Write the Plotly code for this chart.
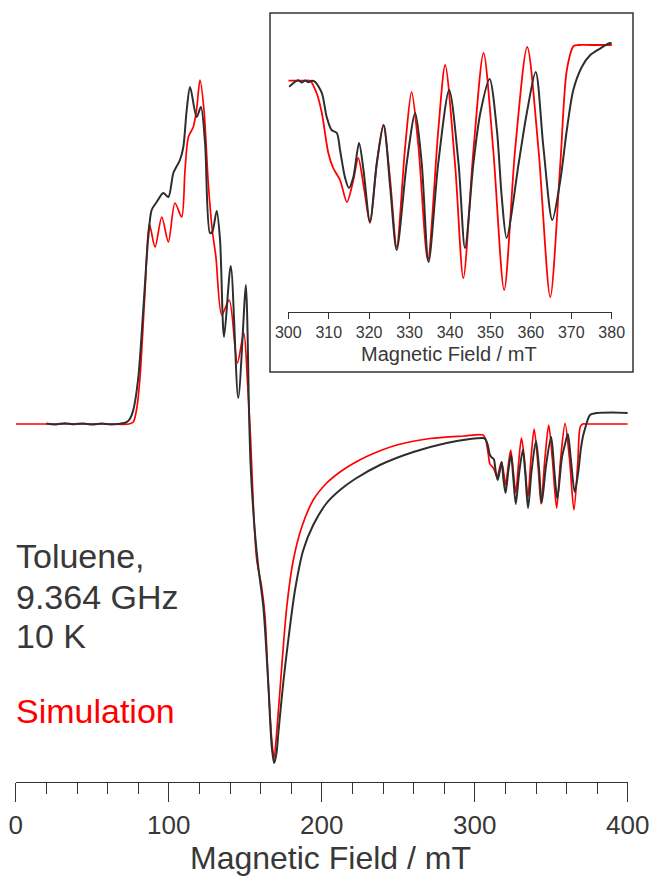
import plotly.graph_objects as go

# ---------------- data ----------------
# Main spectrum: magnetic field (mT) and intensity (arbitrary units)
main_exp_field = [20, 26, 32, 38, 44, 50, 56, 62, 68, 72, 74.5, 76.8, 80.1, 83.3, 86.6, 88.8, 92.1,
                  96.4, 99.7, 103.0, 107.3, 109.5, 111.7, 113.9, 118.2, 121.0, 123.7, 126.9, 128.4,
                  131.3, 133.5, 136.1, 140.5, 145.4, 150.4, 151.5, 152.3, 153.3, 154.3, 156.3, 158.5,
                  161.8, 165.0, 167.3, 168.8, 170.3, 171.6, 174.8, 178.1, 182.5, 187.9, 194.4, 203.2,
                  211.9, 221.7, 238.0, 259.8, 281.6, 296.9, 305.6, 306.8, 308.3, 309.9, 311.1, 312.4,
                  313.6, 314.9, 316.1, 317.6, 318.7, 320.1, 321.9, 323.7, 325.2, 326.8, 328.9, 331.4,
                  333.0, 334.8, 337.1, 340.0, 342.1, 343.7, 346.6, 349.9, 352.0, 353.9, 356.9, 359.0,
                  360.8, 362.7, 365.3, 367.7, 369.3, 370.9, 372.0, 373.1, 375.3, 380, 390, 400]
main_exp_int = [0.5, -0.5, 0.8, -0.3, 0.6, -0.6, 0.4, -0.5, 0.3, 1.5, 5, 14, 47, 114, 187, 214, 222,
                231, 227, 251, 264, 277, 314, 337, 307, 317, 281, 191, 192,
                213, 184, 87, 158, 26, 139, 90, 20, -35, -65, -109, -143,
                -183, -259, -323, -339, -330, -309, -259, -216, -166, -126, -101, -79,
                -66, -55, -41, -28, -19, -15, -14, -15, -20, -31, -33.5, -35,
                -47, -56, -49, -38, -55, -69, -47, -31, -55, -80, -50, -26,
                -50, -84, -47, -17, -47, -79, -41, -13, -47, -75, -34, -20,
                -10, -34, -68, -47, -25, -11, -5, 1, 9, 11, 11.5, 11]

main_sim_field = [0, 20, 40, 60, 74, 76.8, 79, 81.2, 84.4, 87.3, 91.0, 95.4, 99.7, 104.0, 108.4,
                  110.6, 112.8, 116.0, 118.2, 120.4, 123.0, 125.8, 128.4, 130.8, 134.6, 139.5, 144.8,
                  149.0, 151.5, 153.5, 155.5, 157.5, 160.7, 162.9, 165.0, 167.3, 168.8, 170.5, 173.8,
                  177.1, 181.4, 186.9, 194.4, 203.2, 211.9, 220.0, 230.0, 249.0, 270.7, 292.5, 305.4,
                  307.0, 308.7, 309.9, 311.6, 312.8, 314.6, 316.1, 317.4, 319.0, 320.2, 321.9, 323.5,
                  325.2, 326.8, 328.5, 330.5, 332.6, 334.7, 336.7, 338.8, 341.3, 343.3, 345.8, 348.3,
                  350.7, 353.5, 356.1, 359.0, 361.9, 364.8, 367.3, 368.9, 370.6, 372, 380, 390, 400]
main_sim_int = [0, 0, 0, 0, 0, 2, 15, 47, 131, 200, 177, 207, 182, 221, 207,
                254, 287, 297, 315, 344, 314, 241, 194, 167, 109, 124, 61,
                91, 40, -16, -90, -136, -163, -193, -259, -316, -334, -309, -243,
                -183, -136, -103, -76, -59, -48, -40, -32, -21, -14.5, -12, -11,
                -15, -29, -40, -43, -46, -53, -45, -38, -50, -61, -41, -26,
                -48, -69, -41, -14, -38, -73, -35, -5, -41, -80, -35, -1,
                -35, -84, -35, 0.6, -35, -86, -39, -3, 0, 0, 0, 0, 0]

# Inset spectrum (300-380 mT)
inset_exp_field = [300.2, 301.0, 301.7, 302.5, 303.3, 304.2, 305.0, 305.8, 306.6, 308.3, 309.5, 310.7,
                   312.0, 312.8, 314.0, 315.0, 316.1, 317.5, 318.6, 320.2, 321.9, 323.6, 325.2, 326.8,
                   329.3, 331.4, 333.0, 334.7, 337.1, 339.8, 342.1, 343.7, 345.8, 347.5, 349.8, 351.6,
                   352.8, 354.0, 357.0, 359.0, 361.2, 363.1, 365.3, 367.3, 368.9, 370.5, 372.6, 374.7,
                   377.2, 379.6, 380.2]
inset_exp_int = [-5.7, -3, -0.7, 0.8, -1.5, 0.5, -1.2, 0.3, -0.7, -12, -36, -49,
                 -52, -69, -96, -107, -96, -62, -89, -141, -82, -44, -106, -169,
                 -82, -32, -82, -181, -82, -9, -82, -167, -82, -32, 2, -49,
                 -116, -157, -82, -32, 9, -66, -139, -99, -49, -9, 14, 26,
                 32.7, 38, 37]

inset_sim_field = [300, 302, 304, 305.4, 307.0, 308.3, 309.9, 311.1, 312.8, 314.5, 316.1, 317.3, 318.8,
                   320.2, 321.9, 323.5, 325.2, 326.8, 328.9, 330.5, 332.2, 334.5, 337.1, 338.8, 341.3,
                   343.3, 345.8, 348.3, 350.7, 353.4, 356.1, 359.1, 361.9, 364.8, 367.3, 368.9, 370.6,
                   371.8, 375, 380.4]
inset_sim_int = [0.3, 0.3, 0.3, 0.3, -12, -32, -72, -87, -99, -121, -99, -77, -109,
                 -142, -82, -44, -99, -166, -66, -11, -66, -179, -49, 16, -86,
                 -197, -69, 28, -69, -209, -69, 34, -69, -216, -82, 11, 35,
                 36, 36, 36]

# ---------------- styling / geometry ----------------
W, H = 653, 877
FONT = "Liberation Sans, Arial, sans-serif"
TXT = "#383838"
BLACK = "#2e2e2e"
RED = "#ff0000"

def px_x(p):
    return p / W

def px_y(p):
    return 1 - p / H

fig = go.Figure()

fig.add_trace(go.Scatter(x=main_sim_field, y=main_sim_int, mode="lines",
                         line=dict(color=RED, width=1.7, shape="spline", smoothing=0.8),
                         xaxis="x", yaxis="y", showlegend=False, hoverinfo="skip"))
fig.add_trace(go.Scatter(x=main_exp_field, y=main_exp_int, mode="lines",
                         line=dict(color=BLACK, width=2.0, shape="spline", smoothing=0.8),
                         xaxis="x", yaxis="y", showlegend=False, hoverinfo="skip"))
fig.add_trace(go.Scatter(x=inset_sim_field, y=inset_sim_int, mode="lines",
                         line=dict(color=RED, width=1.8, shape="spline", smoothing=0.8),
                         xaxis="x2", yaxis="y2", showlegend=False, hoverinfo="skip"))
fig.add_trace(go.Scatter(x=inset_exp_field, y=inset_exp_int, mode="lines",
                         line=dict(color=BLACK, width=2.0, shape="spline", smoothing=0.8),
                         xaxis="x2", yaxis="y2", showlegend=False, hoverinfo="skip"))

fig.update_layout(
    width=W, height=H,
    margin=dict(l=0, r=0, t=0, b=0),
    paper_bgcolor="white", plot_bgcolor="rgba(0,0,0,0)",
    font=dict(family=FONT, color=TXT),
    xaxis=dict(domain=[px_x(15.8), px_x(627.8)], range=[0, 400], anchor="y",
               showline=True, linecolor="#333", linewidth=1.3,
               ticks="outside", ticklen=19, tickwidth=1.3, tickcolor="#333",
               tick0=0, dtick=100, tickfont=dict(size=26, color=TXT, family=FONT),
               minor=dict(ticks="outside", dtick=20, ticklen=11, tickwidth=1.3, tickcolor="#333"),
               showgrid=False, zeroline=False, automargin=False, fixedrange=True),
    yaxis=dict(domain=[px_y(782.3), px_y(10)], range=[-358.3, 414], anchor="x",
               visible=False, automargin=False),
    xaxis2=dict(domain=[px_x(288.3), px_x(611.7)], range=[300, 380], anchor="y2",
                showline=True, linecolor="#333", linewidth=1.3,
                ticks="outside", ticklen=6, tickwidth=1.3, tickcolor="#333",
                tick0=300, dtick=10, tickfont=dict(size=16, color=TXT, family=FONT),
                showgrid=False, zeroline=False, automargin=False),
    yaxis2=dict(domain=[px_y(311.7), px_y(20)], range=[-230.7, 61], anchor="x2",
                visible=False, automargin=False),
    shapes=[dict(type="rect", xref="paper", yref="paper",
                 x0=px_x(270), x1=px_x(633), y0=px_y(372), y1=px_y(13),
                 line=dict(color="#333", width=1.5), fillcolor="rgba(0,0,0,0)", layer="below")],
)

annos = [
    dict(text="Magnetic Field / mT", x=px_x(330), y=px_y(858), size=32, color=TXT, xa="center"),
    dict(text="Magnetic Field / mT", x=px_x(449), y=px_y(354), size=20, color=TXT, xa="center"),
    dict(text="Toluene,", x=px_x(14), y=px_y(556), size=34, color=TXT, xa="left"),
    dict(text="9.364 GHz", x=px_x(14), y=px_y(597), size=34, color=TXT, xa="left"),
    dict(text="10 K", x=px_x(14), y=px_y(636), size=34, color=TXT, xa="left"),
    dict(text="Simulation", x=px_x(14), y=px_y(711), size=34, color=RED, xa="left"),
]
for a in annos:
    fig.add_annotation(text=a["text"], x=a["x"], y=a["y"], xref="paper", yref="paper",
                       xanchor=a["xa"], yanchor="middle", showarrow=False,
                       font=dict(family=FONT, size=a["size"], color=a["color"]))

fig.write_html("out.html")
